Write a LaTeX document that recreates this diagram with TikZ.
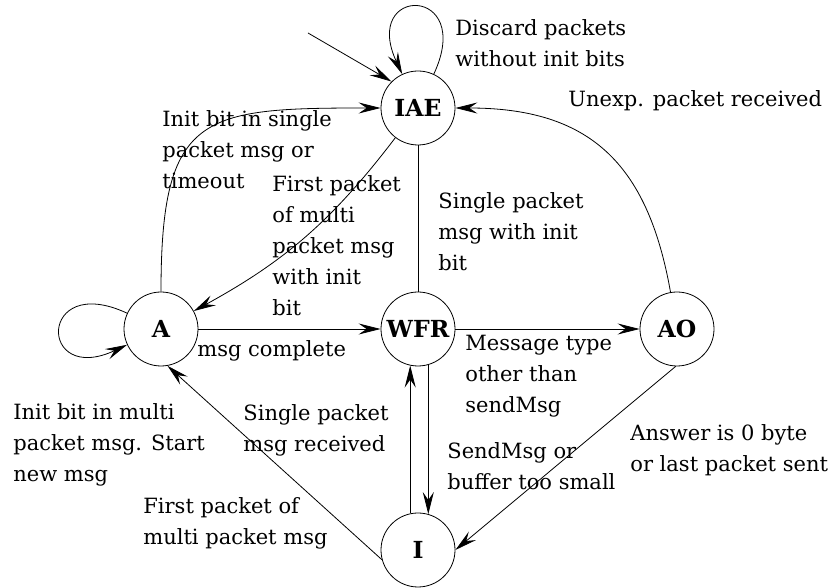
\documentclass[tikz,border=0pt]{standalone}
\usepackage{fontspec}
\setmainfont{DejaVu Serif}
\usetikzlibrary{arrows.meta}

\begin{document}
\begin{tikzpicture}[x=1pt, y=1pt, font=\fontsize{21}{31}\selectfont]

        % Stili globali
        \tikzstyle{every path}=[line width=0.8pt]
        \tikzstyle{stato}=[circle, draw, minimum size=74pt, inner sep=0pt, font=\fontsize{23.5}{27}\selectfont\bfseries]
        \tikzstyle{etichetta}=[anchor=base west, align=left, inner sep=0pt]
        \tikzstyle{freccia}=[-{Stealth[length=22pt, width=11pt, inset=8pt]}]

        % Area del disegno
        \useasboundingbox (0,0) rectangle (836,588);

        % Stati
        \node[stato] (iae) at (418,480) {IAE};
        \node[stato] (a)   at (161,259) {A};
        \node[stato] (wfr) at (418,259) {WFR};
        \node[stato] (ao)  at (677,259) {AO};
        \node[stato] (i)   at (418,38)  {I};

        % Freccia iniziale
        \coordinate (inizio) at (308,555);
        \draw[freccia] (inizio) -- (iae.135);

        % Anelli
        \draw[freccia] (iae) to[out=65, in=115, looseness=8] (iae);
        \draw[freccia] (a) to[out=155, in=205, looseness=8] (a);

        % Transizioni
        \draw[freccia] (a) to[out=90, in=180, looseness=1.6] (iae);
        \draw[freccia] (iae) to[bend left=12] (a);
        \draw (iae) -- (wfr);
        \draw[freccia] (a) -- (wfr);
        \draw[freccia] (wfr) -- (ao);
        \draw[freccia] (ao) to[out=100, in=0, looseness=1.2] (iae);
        \draw[freccia] (i.195) -- (a.-80);
        \draw[freccia] (i.102) -- (wfr.258);
        \draw[freccia] (wfr.-74) -- (i.74);
        \draw[freccia] (ao.268) -- (i.east);

        % Etichette (ancorate alla base dell'ultima riga)
        \node[etichetta] (lscarta)  at (455,521.3) {Discard packets\\without init bits};
        \node[etichetta] (linesp)   at (568,481.3) {Unexp. packet received};
        \node[etichetta] (lsingolo) at (162,399)   {Init bit in single\\packet msg or\\timeout};
        \node[etichetta] (lprimo)   at (272,272)   {First packet\\of multi\\packet msg\\with init\\bit};
        \node[etichetta] (lsinit)   at (438,317.7) {Single packet\\msg with init\\bit};
        \node[etichetta] (lcompl)   at (197,231.3) {msg complete};
        \node[etichetta] (ltipo)    at (465,175.5) {Message type\\other than\\sendMsg};
        \node[etichetta] (lmulti)   at (13,106)    {Init bit in multi\\packet msg. Start\\new msg};
        \node[etichetta] (lricev)   at (243,136)   {Single packet\\msg received};
        \node[etichetta] (lprimomp) at (143,43.7)  {First packet of\\multi packet msg};
        \node[etichetta] (lsend)    at (447,98)    {SendMsg or\\buffer too small};
        \node[etichetta] (lrisp)    at (630,116.3) {Answer is 0 byte\\or last packet sent};

    \end{tikzpicture}
\end{document}
